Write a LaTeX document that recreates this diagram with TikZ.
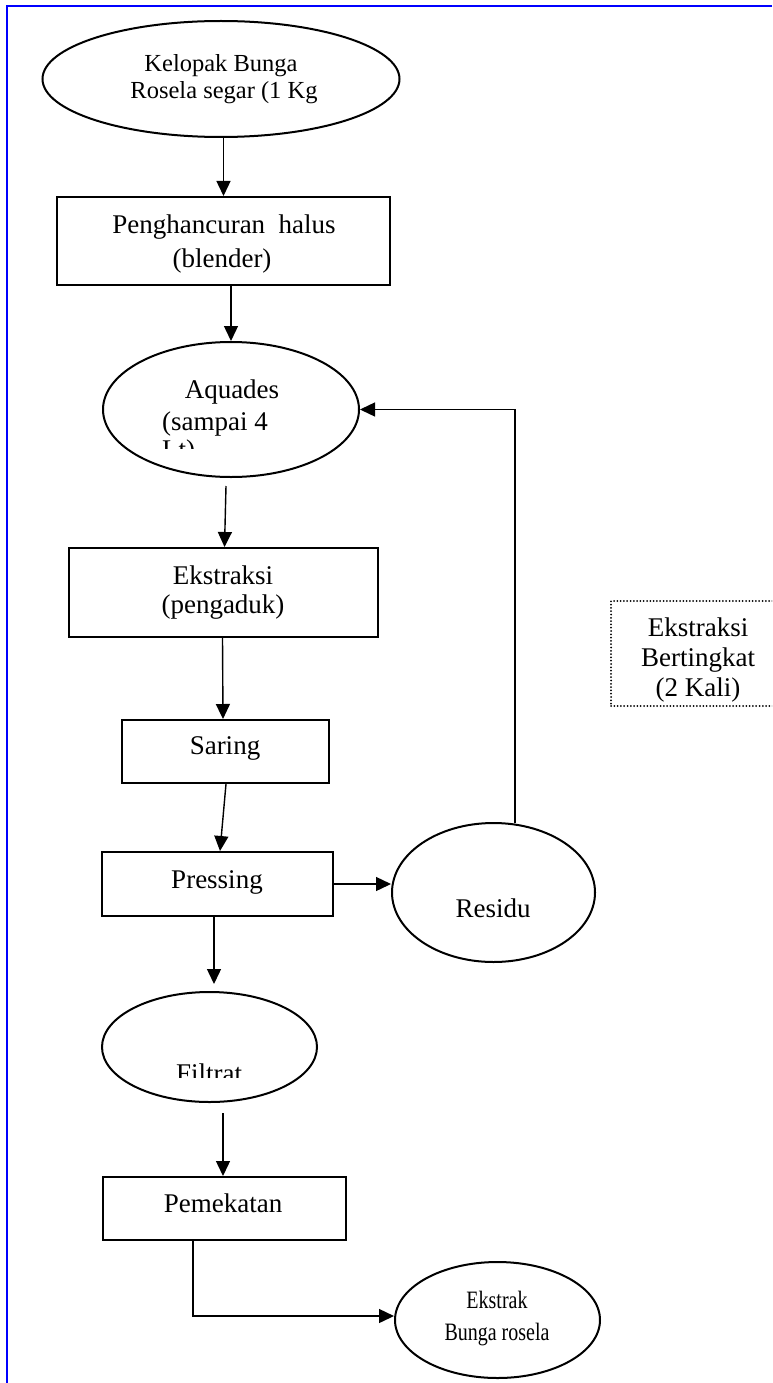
\documentclass[tikz,border=0pt]{standalone}
\usepackage{fontspec}
\usepackage{graphicx}
\setmainfont{Liberation Serif}
\usetikzlibrary{shapes.geometric,arrows.meta,calc}
\begin{document}
\begin{tikzpicture}[x=1pt,y=-1pt,
  shapeline/.style={draw=black, line width=2pt},
  oval/.style={shapeline, ellipse, inner sep=0pt},
  procbox/.style={shapeline, rectangle, inner sep=0pt},
  txt/.style={anchor=base, inner sep=0pt, font=\fontsize{27}{31}\selectfont},
  smalltxt/.style={txt, font=\fontsize{24.5}{28}\selectfont},
  endtxt/.style={txt, font=\fontsize{25}{29}\selectfont},
  conn/.style={line width=1.4pt, -{Triangle[length=15pt,width=14pt]}},
  notebox/.style={draw=black, line width=2pt, dash pattern=on 0pt off 3.3pt, line cap=round, rectangle, inner sep=0pt},
]
\clip (0,0) rectangle (772,1383);
% page frame
\draw[blue, line width=2pt] (772,6) -- (7,6) -- (7,1383);

% start ellipse
\node[oval, minimum width=357pt, minimum height=116pt] (e1) at (221,79) {};
\node[smalltxt] (t1a) at (221,72) {Kelopak Bunga};
\node[smalltxt] (t1b) at (224,99) {Rosela segar (1 Kg};

% Penghancuran
\node[procbox, minimum width=333pt, minimum height=88pt] (b1) at (223.5,241) {};
\node[txt] (t2a) at (224,233) {Penghancuran\ \ halus};
\node[txt] (t2b) at (222,267) {(blender)};

% Aquades
\node[oval, minimum width=256pt, minimum height=135pt] (e2) at (231,409.5) {};
\node[txt] (t3a) at (232,398) {Aquades};
\node[txt, anchor=base west] (t3b) at (162,430) {(sampai 4};
\begin{scope}
  \clip (140,433) rectangle (320,448);
  \node[txt, anchor=base west] (t3c) at (162,458) {Lt)};
\end{scope}

% Ekstraksi
\node[procbox, minimum width=309pt, minimum height=89pt] (b2) at (223.5,592.5) {};
\node[txt] (t4a) at (223,584) {Ekstraksi};
\node[txt] (t4b) at (223,613) {(pengaduk)};

% Saring
\node[procbox, minimum width=207pt, minimum height=63pt] (b3) at (225.5,751.5) {};
\node[txt] (t5) at (225,754) {Saring};

% Pressing
\node[procbox, minimum width=231pt, minimum height=64pt] (b4) at (217.5,884) {};
\node[txt] (t6) at (217,888) {Pressing};

% Residu
\node[oval, minimum width=203pt, minimum height=139pt] (e3) at (493.5,892.5) {};
\node[txt] (t7) at (493,917) {Residu};

% Filtrat
\node[oval, minimum width=215pt, minimum height=110pt] (e4) at (209.5,1047) {};
\begin{scope}
  \clip (100,1050) rectangle (320,1077);
  \node[txt] (t8) at (209,1082) {Filtrat};
\end{scope}

% Pemekatan
\node[procbox, minimum width=243pt, minimum height=63pt] (b5) at (224.5,1208.5) {};
\node[txt] (t9) at (223,1212) {Pemekatan};

% Ekstrak
\node[oval, minimum width=205pt, minimum height=116pt] (e5) at (497.5,1320) {};
\node[endtxt] (t10a) at (497,1308) {\scalebox{0.8}[1]{Ekstrak}};
\node[endtxt] (t10b) at (497,1340) {\scalebox{0.8}[1]{Bunga rosela}};

% note box
\node[notebox, minimum width=180pt, minimum height=105pt] (nb) at (701,653.5) {};
\node[txt] (t11a) at (698,636) {Ekstraksi};
\node[txt] (t11b) at (698,666) {Bertingkat};
\node[txt] (t11c) at (698,696) {(2 Kali)};

% connectors
\draw[conn] (e1.south -| b1.north) -- (b1.north);
\draw[conn] (b1.south -| e2.north) -- (e2.north);
\draw[conn] ($(e2.south)+(-5,8)$) -- ($(b2.north)+(1,0)$);
\draw[conn] ($(b2.south)+(-1,0)$) -- ($(b3.north)+(-2.5,0)$);
\draw[conn] ($(b3.south)+(0.5,0)$) -- ($(b4.north)+(2.5,0)$);
\draw[conn] (b4.east) -- (b4.east -| e3.west);
\coordinate (fb) at ($(e3.north)+(21.5,1)$);
\draw[conn] (fb) |- (e2.east);
\draw[conn] ($(b4.south)+(-3.5,0)$) -- ($(e4.north)+(4.5,-7)$);
\draw[conn] ($(e4.south)+(13.5,10)$) -- ($(b5.north)+(-1.5,0)$);
\draw[conn] ($(b5.south)+(-31.5,0)$) |- ($(e5.west)+(0,-4)$);
\end{tikzpicture}
\end{document}
